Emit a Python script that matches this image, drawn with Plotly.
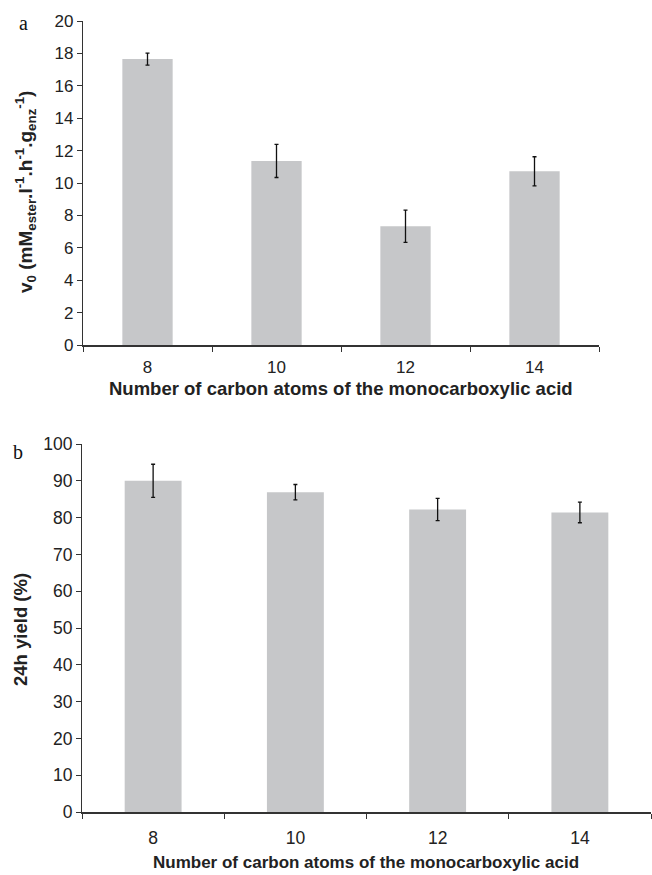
import plotly.graph_objects as go

categories = ["8", "10", "12", "14"]
v0_values = [17.65, 11.36, 7.33, 10.72]
v0_errors = [0.37, 1.02, 1.00, 0.90]
yield_values = [90.0, 86.9, 82.2, 81.4]
yield_errors = [4.5, 2.1, 3.0, 2.8]

W, H = 652, 875
BAR = "#c6c7c9"
AX = "#333333"
FONT = "Liberation Sans, Arial, sans-serif"

def px_x(p):
    return p / W

def px_y(p):
    return 1 - p / H

fig = go.Figure()
fig.add_trace(go.Bar(
    x=categories, y=v0_values, width=0.39, marker=dict(color=BAR, line=dict(width=0)),
    error_y=dict(type="data", array=v0_errors, color="#111111", thickness=1.3, width=2),
    xaxis="x", yaxis="y", showlegend=False))
fig.add_trace(go.Bar(
    x=categories, y=yield_values, width=0.40, marker=dict(color=BAR, line=dict(width=0)),
    error_y=dict(type="data", array=yield_errors, color="#111111", thickness=1.3, width=2),
    xaxis="x2", yaxis="y2", showlegend=False))

common_x = dict(type="category", tickson="boundaries", ticks="outside", ticklen=5,
                tickcolor=AX, tickwidth=1.2, showline=True, linecolor=AX, linewidth=1.5,
                showgrid=False, zeroline=False, automargin=False)
common_y = dict(ticks="outside", ticklen=5, tickcolor=AX, tickwidth=1.2, showline=True,
                linecolor=AX, linewidth=1.2, showgrid=False, zeroline=False, automargin=False)

fig.update_layout(
    width=W, height=H, margin=dict(l=0, r=0, t=0, b=0),
    paper_bgcolor="white", plot_bgcolor="white",
    font=dict(family=FONT, color="#222222"),
    xaxis=dict(domain=[px_x(83), px_x(599)], anchor="y", range=[-0.5, 3.5],
               tickfont=dict(size=17), ticklabelstandoff=6, **common_x),
    yaxis=dict(domain=[px_y(345), px_y(21)], anchor="x", range=[0, 20], dtick=2,
               tickfont=dict(size=17), **common_y),
    xaxis2=dict(domain=[px_x(82), px_x(651)], anchor="y2", range=[-0.5, 3.5],
                tickfont=dict(size=17.5), ticklabelstandoff=9, **common_x),
    yaxis2=dict(domain=[px_y(812), px_y(444)], anchor="x2", range=[0, 100], dtick=10,
                tickfont=dict(size=17.5), **common_y),
)

ann = [
    dict(text="a", x=px_x(23), y=px_y(23), font=dict(family="Liberation Serif, serif", size=20, color="#111")),
    dict(text="b", x=px_x(18), y=px_y(452), font=dict(family="Liberation Serif, serif", size=20, color="#111")),
    dict(text="<b>Number of carbon atoms of the monocarboxylic acid</b>", x=px_x(341), y=px_y(388),
         font=dict(size=18.5, color="#222")),
    dict(text="<b>Number of carbon atoms of the monocarboxylic acid</b>", x=px_x(366), y=px_y(862),
         font=dict(size=17, color="#222")),
    dict(text="<b>v<sub>0</sub> (mM<sub>ester</sub>.l<sup>-1</sup>.h<sup>-1</sup>.g<sub>enz</sub><sup>-1</sup>)</b>",
         x=px_x(25), y=px_y(192), textangle=-90, font=dict(size=19, color="#222")),
    dict(text="<b>24h yield (%)</b>", x=px_x(20), y=px_y(630), textangle=-90,
         font=dict(size=18.5, color="#222")),
]
for a in ann:
    a.update(xref="paper", yref="paper", showarrow=False, xanchor="center", yanchor="middle")
fig.update_layout(annotations=ann)

fig.write_html("out.html")
